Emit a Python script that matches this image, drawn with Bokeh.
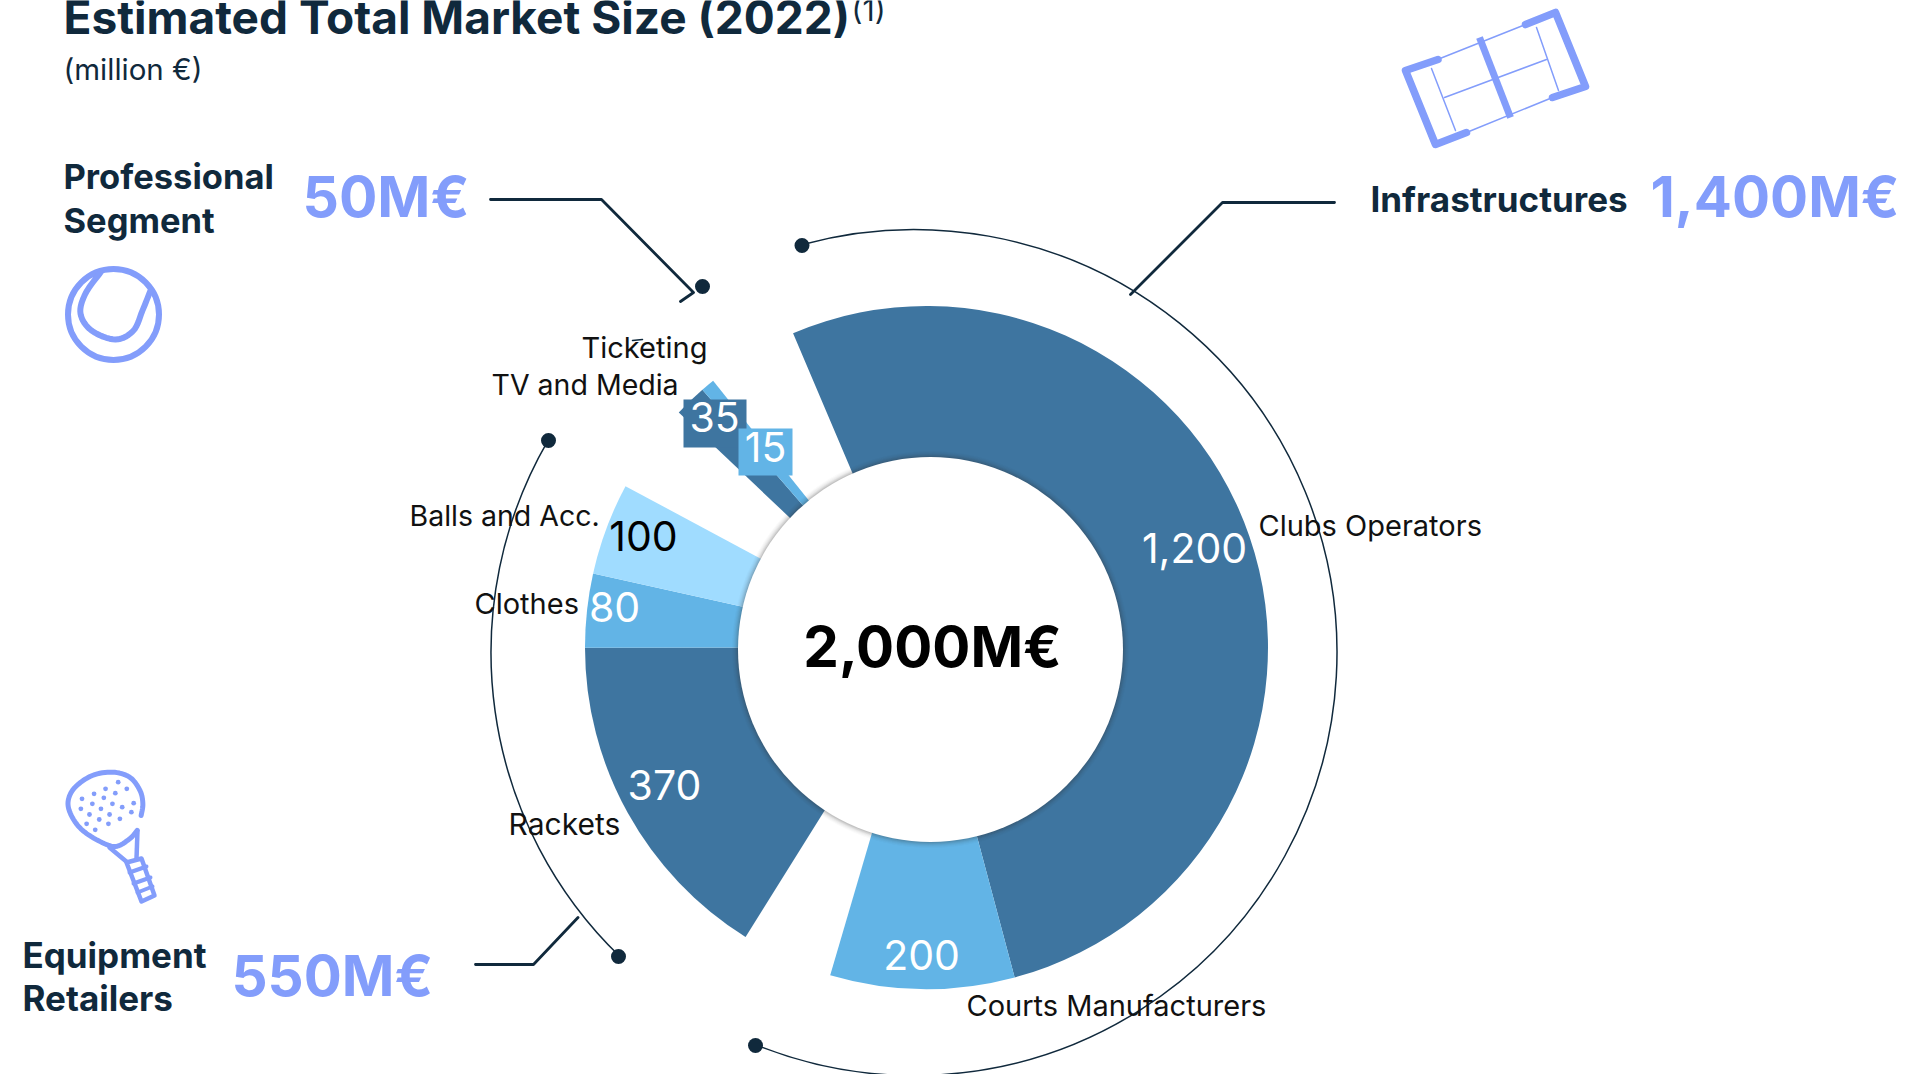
import math
from bokeh.plotting import figure
from bokeh.models import Range1d
from bokeh.core.properties import value
from bokeh.embed import file_html
from bokeh.resources import INLINE

# ---- data ----
categories = ["Clubs Operators", "Courts Manufacturers", "Rackets", "Clothes", "Balls and Acc.", "TV and Media", "Ticketing"]
values = [1200, 200, 370, 80, 100, 35, 15]
segment_names = ["Infrastructures", "Equipment Retailers", "Professional Segment"]
segment_totals = ["1,400M€", "550M€", "50M€"]
total_label = "2,000M€"
value_labels = ["1,200", "200", "370", "80", "100", "35", "15"]

# ---- style / layout ----
W, H = 1910, 1074
NAVY = "#10293c"
PERI = "#839dfb"
DARK = "#3e75a0"
MID = "#62b4e6"
LIGHT = "#a0dcff"
colors = [DARK, MID, DARK, MID, LIGHT, DARK, MID]
text_colors = ["white", "white", "white", "white", "black", "white", "white"]
DEG_PER_UNIT = 0.1567
group_starts = {0: -23.0, 2: 212.0, 5: 313.5}  # clockwise from 12 o'clock

def Y(py):
    return H - py

p = figure(width=W, height=H, x_range=Range1d(0, W), y_range=Range1d(0, H),
           x_axis_type=None, y_axis_type=None, toolbar_location=None,
           output_backend="svg", min_border=0, outline_line_color=None,
           background_fill_color="white", border_fill_color="white")
p.margin = (0, 0, 0, 0)

def txt(x, y, s, size, color=NAVY, style="normal", align="left", font="Inter"):
    p.text([x], [Y(y - 1.5)], text=[s], text_font=value(font), text_font_size=f"{size}px",
           text_color=color, text_font_style=style, text_align=align, text_baseline="middle")

def seg(xs, ys, width, color=NAVY, cap="round"):
    p.line(xs, [Y(v) for v in ys], line_color=color, line_width=width, line_cap=cap, line_join="round")

def smooth(pts, width, color=PERI, n=8):
    """Catmull-Rom curve through icon outline points."""
    xs, ys = [], []
    for i in range(len(pts) - 1):
        p0 = pts[max(i - 1, 0)]; p1 = pts[i]; p2 = pts[i + 1]; p3 = pts[min(i + 2, len(pts) - 1)]
        for k in range(n):
            t = k / n
            for out, d in ((xs, 0), (ys, 1)):
                out.append(0.5 * (2 * p1[d] + (p2[d] - p0[d]) * t
                                  + (2 * p0[d] - 5 * p1[d] + 4 * p2[d] - p3[d]) * t * t
                                  + (3 * p1[d] - p0[d] - 3 * p2[d] + p3[d]) * t ** 3))
    xs.append(pts[-1][0]); ys.append(pts[-1][1])
    seg(xs, ys, width, color)

# donut
CX, CY, R = 926, 647, 341.5
angle = 0.0
for i, v in enumerate(values):
    if i in group_starts:
        angle = group_starts[i]
    span = v * DEG_PER_UNIT
    a0 = math.radians(90 - angle - span)
    a1 = math.radians(90 - angle)
    p.wedge([CX], [Y(CY)], radius=R, start_angle=a0, end_angle=a1,
            fill_color=colors[i], line_color=None)
    angle += span

# inner circle with soft shadow
ICX, ICY, IR = 930, 649, 192.5
for dr, a in [(6, 0.02), (5, 0.03), (4, 0.04), (3, 0.06), (2, 0.08), (1, 0.10)]:
    p.circle([ICX], [Y(ICY)], radius=IR + dr, fill_color="#303030", fill_alpha=a, line_color=None)
p.circle([ICX], [Y(ICY)], radius=IR, fill_color="white", line_color=None)

# bracket arcs
ACX, ACY, AR = 913.5, 652, 423
p.arc([ACX], [Y(ACY)], radius=AR, start_angle=math.radians(90 - 201.9), end_angle=math.radians(90 + 15.4),
      line_color=NAVY, line_width=1.5)
p.arc([ACX], [Y(ACY)], radius=AR, start_angle=math.radians(90 - 300), end_angle=math.radians(90 - 224),
      line_color=NAVY, line_width=1.5)
dots_x = [801.5, 755, 548, 618, 702]
dots_y = [245, 1045, 440, 956, 286]
p.circle(dots_x, [Y(v) for v in dots_y], radius=7.5, fill_color=NAVY, line_color=None)

# connectors
seg([490, 601, 693, 680], [199, 199, 292, 301], 2.8)
seg([1334, 1222, 1130], [202, 202, 294], 2.8)
seg([475, 533, 577.5], [964, 964, 917], 2.8)
seg([632, 642], [340, 339], 1.5)

# value-label boxes
p.quad(left=[683], right=[746], top=[Y(399)], bottom=[Y(447)], fill_color=DARK, line_color=None)
p.quad(left=[738], right=[792], top=[Y(428)], bottom=[Y(475)], fill_color=MID, line_color=None)

# value labels
vx = [1194, 921, 664, 614, 643, 714, 765]
vy = [549, 956, 786, 608, 537, 418, 448]
for i, s in enumerate(value_labels):
    txt(vx[i], vy[i], s, 41, color=text_colors[i], align="center")

# category labels
cx_ = [1258, 966, 508, 474, 409, 491, 581]
cy_ = [526, 1006, 825, 604, 516, 385, 348]
csize = [29, 29, 30, 29, 28.5, 28.5, 29]
for i, s in enumerate(categories):
    txt(cx_[i], cy_[i], s, csize[i], color="#111111")

txt(932, 647, total_label, 56.5, color="black", style="bold", align="center")

# headings
txt(63, 18, "Estimated Total Market Size (2022)", 46, style="bold")
txt(851, 11, "(1)", 30)
txt(63, 70, "(million €)", 29.5)

txt(63, 177, "Professional", 34.5, style="bold")
txt(63, 221, "Segment", 34.5, style="bold")
txt(302, 197, segment_totals[2], 57, color=PERI, style="bold")
txt(1370, 200, segment_names[0], 35, style="bold")
txt(1650, 197, segment_totals[0], 56.5, color=PERI, style="bold")
txt(22, 956, "Equipment", 35, style="bold")
txt(22, 999, "Retailers", 35, style="bold")
txt(231, 976, segment_totals[1], 56.5, color=PERI, style="bold")

# tennis-ball icon
p.circle([113], [Y(314)], radius=45.5, fill_color=None, line_color=PERI, line_width=6)
smooth([(100, 272), (85, 293), (80, 313), (91, 330), (115, 339), (133, 330), (142, 310), (150, 290)], 6)

# court icon
seg([1437.5, 1405, 1435, 1466], [59, 70, 144, 132], 7.5, PERI)
seg([1525, 1555, 1585, 1552], [24, 12, 86, 97], 7.5, PERI)
seg([1479, 1510], [37, 117], 7, PERI, "butt")
seg([1437, 1525], [59, 24], 1.5, PERI)
seg([1466, 1552], [132, 97], 1.5, PERI)
seg([1431, 1455], [68, 130], 1.5, PERI)
seg([1536, 1558], [27, 90], 1.5, PERI)
seg([1444, 1546], [97, 59], 1.5, PERI)

# racket icon
def rz(pts):
    return [(a / 1.742, b / 3 + 740) for a, b in pts]
smooth(rz([(238, 270), (225, 295), (200, 318), (170, 300), (140, 265), (122, 220), (118, 180), (130, 140),
           (160, 105), (195, 95), (225, 110), (243, 150), (248, 190), (245, 225)]), 5)
seg([109, 127], [847, 862], 4.5, PERI)
seg([137, 136], [830, 858], 4.5, PERI)
seg([126, 141, 154, 141, 126], [862, 858, 895, 901, 862], 4.5, PERI)
for (a, b, c, d) in [(129, 146, 872, 866), (133, 150, 883, 877), (137, 152, 892, 886)]:
    seg([a, b], [c, d], 4, PERI)
rd_x = [205, 183, 163, 220, 200, 180, 142, 160, 195, 232, 212, 175, 140, 190, 228, 155, 208, 172, 150, 188, 165]
rd_y = [125, 145, 160, 145, 158, 172, 175, 190, 190, 188, 200, 205, 205, 222, 215, 222, 235, 237, 250, 250, 268]
p.circle([v / 1.742 for v in rd_x], [Y(v / 3 + 740) for v in rd_y], radius=2.4, fill_color=PERI, line_color=None)

open("out.html", "w").write(file_html(p, INLINE))
